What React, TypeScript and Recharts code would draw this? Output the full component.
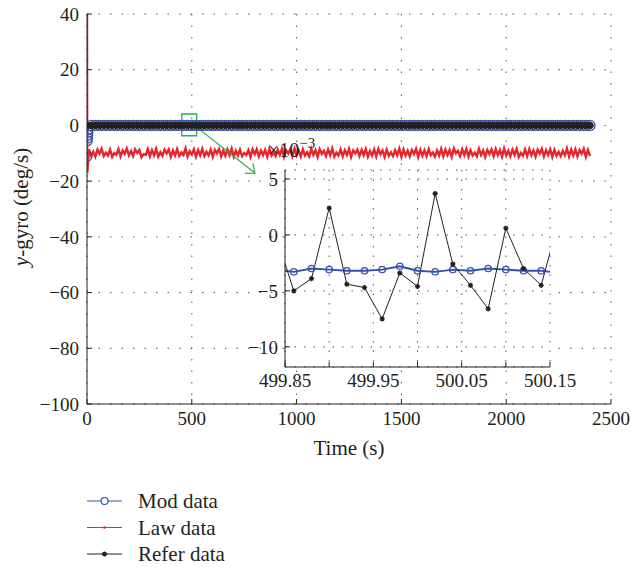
import React from "react";
import {
  CartesianGrid,
  Label,
  Line,
  LineChart,
  ReferenceArea,
  ReferenceLine,
  XAxis,
  YAxis,
} from "recharts";

const FONT = "'Liberation Serif', 'Times New Roman', serif";
const INK = "#231f20";
const BLUE = "#3152a8";
const RED = "#e8242c";
const GREEN = "#27ae4f";

// main plot axes
const X_TICKS = [0, 500, 1000, 1500, 2000, 2500];
const Y_TICKS = [-100, -80, -60, -40, -20, 0, 20, 40];

// start-up transients at t = 0
const MOD_START_TIME = [0, 1, 2, 3, 4, 5];
const MOD_START = [-11.1, -5.5, -4.5, -3.5, -2.5, -1.5];
const REFER_START_TIME = [0];
const REFER_START = [0];
const LAW_START_TIME = [0, 1];
const LAW_START = [45, -17];

const MAIN_TIME = [
  20, 40, 60, 80, 100, 120, 140, 160, 180, 200,
  220, 240, 260, 280, 300, 320, 340, 360, 380, 400,
  420, 440, 460, 480, 500, 520, 540, 560, 580, 600,
  620, 640, 660, 680, 700, 720, 740, 760, 780, 800,
  820, 840, 860, 880, 900, 920, 940, 960, 980, 1000,
  1020, 1040, 1060, 1080, 1100, 1120, 1140, 1160, 1180, 1200,
  1220, 1240, 1260, 1280, 1300, 1320, 1340, 1360, 1380, 1400,
  1420, 1440, 1460, 1480, 1500, 1520, 1540, 1560, 1580, 1600,
  1620, 1640, 1660, 1680, 1700, 1720, 1740, 1760, 1780, 1800,
  1820, 1840, 1860, 1880, 1900, 1920, 1940, 1960, 1980, 2000,
  2020, 2040, 2060, 2080, 2100, 2120, 2140, 2160, 2180, 2200,
  2220, 2240, 2260, 2280, 2300, 2320, 2340, 2360, 2380, 2400,
];

const MOD_MAIN = [
  0, 0, 0, 0, 0, 0, 0, 0, 0, 0,
  0, 0, 0, 0, 0, 0, 0, 0, 0, 0,
  0, 0, 0, 0, 0, 0, 0, 0, 0, 0,
  0, 0, 0, 0, 0, 0, 0, 0, 0, 0,
  0, 0, 0, 0, 0, 0, 0, 0, 0, 0,
  0, 0, 0, 0, 0, 0, 0, 0, 0, 0,
  0, 0, 0, 0, 0, 0, 0, 0, 0, 0,
  0, 0, 0, 0, 0, 0, 0, 0, 0, 0,
  0, 0, 0, 0, 0, 0, 0, 0, 0, 0,
  0, 0, 0, 0, 0, 0, 0, 0, 0, 0,
  0, 0, 0, 0, 0, 0, 0, 0, 0, 0,
  0, 0, 0, 0, 0, 0, 0, 0, 0, 0,
];

const REFER_MAIN = [
  0, 0, 0, 0, 0, 0, 0, 0, 0, 0,
  0, 0, 0, 0, 0, 0, 0, 0, 0, 0,
  0, 0, 0, 0, 0, 0, 0, 0, 0, 0,
  0, 0, 0, 0, 0, 0, 0, 0, 0, 0,
  0, 0, 0, 0, 0, 0, 0, 0, 0, 0,
  0, 0, 0, 0, 0, 0, 0, 0, 0, 0,
  0, 0, 0, 0, 0, 0, 0, 0, 0, 0,
  0, 0, 0, 0, 0, 0, 0, 0, 0, 0,
  0, 0, 0, 0, 0, 0, 0, 0, 0, 0,
  0, 0, 0, 0, 0, 0, 0, 0, 0, 0,
  0, 0, 0, 0, 0, 0, 0, 0, 0, 0,
  0, 0, 0, 0, 0, 0, 0, 0, 0, 0,
];

const LAW_TIME = [
  10, 20, 30, 40, 50, 60, 70, 80, 90, 100,
  110, 120, 130, 140, 150, 160, 170, 180, 190, 200,
  210, 220, 230, 240, 250, 260, 270, 280, 290, 300,
  310, 320, 330, 340, 350, 360, 370, 380, 390, 400,
  410, 420, 430, 440, 450, 460, 470, 480, 490, 500,
  510, 520, 530, 540, 550, 560, 570, 580, 590, 600,
  610, 620, 630, 640, 650, 660, 670, 680, 690, 700,
  710, 720, 730, 740, 750, 760, 770, 780, 790, 800,
  810, 820, 830, 840, 850, 860, 870, 880, 890, 900,
  910, 920, 930, 940, 950, 960, 970, 980, 990, 1000,
  1010, 1020, 1030, 1040, 1050, 1060, 1070, 1080, 1090, 1100,
  1110, 1120, 1130, 1140, 1150, 1160, 1170, 1180, 1190, 1200,
  1210, 1220, 1230, 1240, 1250, 1260, 1270, 1280, 1290, 1300,
  1310, 1320, 1330, 1340, 1350, 1360, 1370, 1380, 1390, 1400,
  1410, 1420, 1430, 1440, 1450, 1460, 1470, 1480, 1490, 1500,
  1510, 1520, 1530, 1540, 1550, 1560, 1570, 1580, 1590, 1600,
  1610, 1620, 1630, 1640, 1650, 1660, 1670, 1680, 1690, 1700,
  1710, 1720, 1730, 1740, 1750, 1760, 1770, 1780, 1790, 1800,
  1810, 1820, 1830, 1840, 1850, 1860, 1870, 1880, 1890, 1900,
  1910, 1920, 1930, 1940, 1950, 1960, 1970, 1980, 1990, 2000,
  2010, 2020, 2030, 2040, 2050, 2060, 2070, 2080, 2090, 2100,
  2110, 2120, 2130, 2140, 2150, 2160, 2170, 2180, 2190, 2200,
  2210, 2220, 2230, 2240, 2250, 2260, 2270, 2280, 2290, 2300,
  2310, 2320, 2330, 2340, 2350, 2360, 2370, 2380, 2390, 2400,
];

const LAW_MAIN = [
  -8.6, -10.9, -9.4, -11.2, -8.7, -10.1, -8.4, -11.0, -9.8, -10.8,
  -8.7, -11.3, -9.9, -10.5, -8.5, -11.1, -9.0, -10.2, -8.3, -10.7,
  -9.2, -11.0, -8.6, -9.9, -8.8, -11.4, -10.3, -10.6, -8.5, -11.1,
  -8.9, -10.7, -8.4, -11.2, -9.6, -10.9, -8.7, -10.0, -8.6, -11.3,
  -9.0, -10.8, -8.5, -11.0, -9.7, -10.6, -8.3, -11.1, -9.2, -10.4,
  -8.6, -11.2, -8.9, -10.7, -8.4, -11.0, -9.5, -10.8, -8.7, -11.3,
  -8.8, -10.0, -8.5, -11.1, -9.0, -10.9, -8.6, -10.7, -8.3, -11.2,
  -9.1, -10.8, -8.7, -11.0, -9.9, -10.6, -8.9, -11.3, -8.6, -10.3,
  -8.5, -11.1, -9.0, -10.7, -8.8, -11.2, -8.4, -10.8, -9.7, -11.0,
  -8.7, -10.6, -8.5, -11.3, -8.9, -10.1, -8.6, -11.0, -8.3, -10.7,
  -9.0, -11.2, -8.6, -10.8, -9.6, -11.1, -8.4, -10.6, -8.9, -11.3,
  -8.5, -10.2, -9.1, -11.0, -8.7, -10.7, -8.3, -11.2, -9.8, -10.8,
  -8.6, -11.1, -8.9, -10.6, -8.4, -11.3, -9.0, -10.0, -8.7, -11.0,
  -8.8, -10.7, -8.5, -11.2, -9.2, -10.8, -8.6, -11.1, -8.4, -10.4,
  -9.0, -11.3, -8.7, -10.9, -9.6, -11.0, -8.9, -10.7, -8.3, -11.2,
  -8.6, -10.8, -9.1, -11.1, -8.8, -10.2, -8.4, -11.3, -8.7, -10.9,
  -8.9, -11.0, -8.5, -10.7, -9.7, -11.2, -9.0, -10.8, -8.4, -11.1,
  -8.7, -10.6, -8.8, -11.3, -8.3, -10.0, -9.1, -11.0, -8.6, -10.7,
  -8.5, -11.2, -8.9, -10.8, -9.8, -11.1, -8.4, -10.6, -9.0, -11.3,
  -8.8, -10.3, -8.6, -11.0, -8.5, -10.7, -8.9, -11.2, -8.3, -10.8,
  -9.1, -11.1, -8.7, -10.6, -8.4, -11.3, -9.9, -10.9, -8.6, -11.0,
  -8.5, -10.7, -9.0, -11.2, -8.7, -10.1, -8.4, -11.1, -8.9, -10.6,
  -8.6, -11.3, -8.8, -10.9, -9.5, -11.0, -9.1, -10.7, -8.3, -11.2,
  -8.7, -10.8, -8.6, -11.1, -8.9, -10.2, -8.4, -11.3, -8.8, -10.9,
];

// zoomed window around t = 500 s, values in units of 1e-3 deg/s
const INSET_TIME = [
  499.84, 499.86, 499.88, 499.9, 499.92, 499.94, 499.96, 499.98, 500.0,
  500.02, 500.04, 500.06, 500.08, 500.1, 500.12, 500.14, 500.16,
];
const MOD_INSET = [
  -3.1, -3.3, -3.0, -3.1, -3.2, -3.2, -3.1, -2.8, -3.2,
  -3.3, -3.1, -3.2, -3.0, -3.1, -3.2, -3.2, -3.4,
];
const REFER_INSET = [
  -0.1, -5.0, -3.9, 2.4, -4.4, -4.7, -7.5, -3.4, -4.6,
  3.7, -2.6, -4.5, -6.6, 0.6, -3.0, -4.5, 1.3,
];
const INSET_X_TICKS = [499.85, 499.9, 499.95, 500, 500.05, 500.1, 500.15];
const INSET_X_LABELS = ["499.85", "499.95", "500.05", "500.15"];
const INSET_Y_TICKS = [-10, -5, 0, 5];

// zoom box and arrow pointing to the inset
const ZOOM_BOX = { x1: 452, x2: 523, y1: -3.7, y2: 4.1 };
const ZOOM_ARROW = [
  { x: 523, y: -0.6 },
  { x: 801, y: -17.1 },
];

const LEGEND = [
  { name: "Mod data", color: BLUE, marker: "circle" },
  { name: "Law data", color: RED, marker: "dot" },
  { name: "Refer data", color: INK, marker: "star" },
];

const zip = (ts: number[], vs: number[]) => ts.map((t, i) => ({ t, v: vs[i] }));

const modData = [...zip(MOD_START_TIME, MOD_START), ...zip(MAIN_TIME, MOD_MAIN)];
const referData = [...zip(REFER_START_TIME, REFER_START), ...zip(MAIN_TIME, REFER_MAIN)];
const lawData = [...zip(LAW_START_TIME, LAW_START), ...zip(LAW_TIME, LAW_MAIN)];
const modInset = zip(INSET_TIME, MOD_INSET);
const referInset = zip(INSET_TIME, REFER_INSET);

const minus = (v: number) => String(v).replace("-", "\u2212");
const insetX = (v: number) => {
  const s = v.toFixed(2);
  return INSET_X_LABELS.includes(s) ? s : "";
};

// tick labels drawn by hand so the serif font and size stick
const makeTick = (side: "bottom" | "left", fmt: (v: number) => string) => (props: any) => {
  const { x, y, payload, textAnchor, index } = props;
  const label = fmt(payload.value);
  if (!label) return <g key={`t-${index}`} />;
  return (
    <text
      key={`t-${index}`}
      x={x}
      y={y}
      dy={side === "bottom" ? "0.71em" : "0.355em"}
      textAnchor={textAnchor}
      fontSize={19}
      fontFamily={FONT}
      fill={INK}
    >
      {label}
    </text>
  );
};

const starPath = (cx: number, cy: number, s: number) => {
  const d = s * 0.7;
  return `M${cx - s},${cy}H${cx + s}M${cx},${cy - s}V${cy + s}M${cx - d},${cy - d}L${cx + d},${cy + d}M${cx - d},${cy + d}L${cx + d},${cy - d}`;
};

const starDot = (size: number, width: number) => (props: any) => {
  const { cx, cy, index } = props;
  if (cx == null || cy == null) return <g key={`s-${index}`} />;
  return (
    <path
      key={`s-${index}`}
      d={starPath(cx, cy, size)}
      stroke={INK}
      strokeWidth={width}
      fill="none"
    />
  );
};

const Arrow = (props: any) => {
  const { x1, y1, x2, y2 } = props;
  const a = Math.atan2(y2 - y1, x2 - x1);
  const len = 10;
  const w = 0.7;
  const p1 = `${x2 - len * Math.cos(a - w)},${y2 - len * Math.sin(a - w)}`;
  const p2 = `${x2 - len * Math.cos(a + w)},${y2 - len * Math.sin(a + w)}`;
  return (
    <g>
      <line x1={x1} y1={y1} x2={x2} y2={y2} stroke={GREEN} strokeWidth={1.2} />
      <polyline points={`${p1} ${x2},${y2} ${p2}`} fill="none" stroke={GREEN} strokeWidth={1.2} />
    </g>
  );
};

const XTitle = (props: any) => {
  const { x, y, width } = props.viewBox;
  return (
    <text x={x + width / 2} y={y + 51} textAnchor="middle" fontSize={21} fontFamily={FONT} fill={INK}>
      Time (s)
    </text>
  );
};

const YTitle = (props: any) => {
  const { x, y, height } = props.viewBox;
  const cx = x + 21;
  const cy = y + height / 2 - 2;
  return (
    <text
      x={cx}
      y={cy}
      transform={`rotate(-90, ${cx}, ${cy})`}
      textAnchor="middle"
      dominantBaseline="central"
      fontSize={21}
      fontFamily={FONT}
      fill={INK}
    >
      <tspan fontStyle="italic">y</tspan>-gyro (deg/s)
    </text>
  );
};

const ScaleNote = (props: any) => {
  const { x, y, width } = props.viewBox;
  return (
    <text x={x + width - 17} y={y - 13} fontSize={20} fontFamily={FONT} fill={INK}>
      ×10
      <tspan fontSize={15} dy={-9}>
        {"\u22123"}
      </tspan>
    </text>
  );
};

const MainChart = () => (
  <LineChart width={631} height={470} margin={{ top: 14, right: 20, bottom: 6, left: 0 }}>
    <CartesianGrid stroke="#555" strokeDasharray="1.5 10" />
    <XAxis
      type="number"
      dataKey="t"
      domain={[0, 2500]}
      ticks={X_TICKS}
      interval={0}
      allowDataOverflow
      height={60}
      tickSize={-5}
      tickMargin={13}
      stroke={INK}
      tick={makeTick("bottom", String)}
    >
      <Label content={XTitle} />
    </XAxis>
    <XAxis
      xAxisId="top"
      orientation="top"
      type="number"
      domain={[0, 2500]}
      ticks={X_TICKS}
      interval={0}
      allowDataOverflow
      height={0}
      tickSize={-5}
      tick={false}
      stroke={INK}
    />
    <YAxis
      type="number"
      domain={[-100, 40]}
      ticks={Y_TICKS}
      interval={0}
      allowDataOverflow
      width={87}
      tickSize={-5}
      tickMargin={13}
      stroke={INK}
      tick={makeTick("left", minus)}
    >
      <Label content={YTitle} />
    </YAxis>
    <YAxis
      yAxisId="right"
      orientation="right"
      type="number"
      domain={[-100, 40]}
      ticks={Y_TICKS}
      interval={0}
      allowDataOverflow
      width={0}
      tickSize={-5}
      tick={false}
      stroke={INK}
    />
    <Line
      data={modData}
      dataKey="v"
      stroke={BLUE}
      strokeWidth={1}
      dot={{ r: 5, stroke: BLUE, strokeWidth: 1.2, fill: "none" }}
      activeDot={false}
      isAnimationActive={false}
    />
    <Line
      data={lawData}
      dataKey="v"
      stroke={RED}
      strokeWidth={2.4}
      dot={false}
      activeDot={false}
      isAnimationActive={false}
    />
    <Line
      data={referData}
      dataKey="v"
      stroke={INK}
      strokeWidth={1}
      dot={starDot(3.6, 2.6)}
      activeDot={false}
      isAnimationActive={false}
    />
    <ReferenceArea
      x1={ZOOM_BOX.x1}
      x2={ZOOM_BOX.x2}
      y1={ZOOM_BOX.y1}
      y2={ZOOM_BOX.y2}
      stroke={GREEN}
      strokeWidth={1.3}
      fill="none"
      fillOpacity={0}
    />
    <ReferenceLine segment={ZOOM_ARROW} shape={Arrow} />
  </LineChart>
);

const InsetChart = () => (
  <LineChart width={360} height={280} margin={{ top: 50, right: 40, bottom: 3, left: 25 }}>
    <CartesianGrid stroke="#555" strokeDasharray="1.5 8" fill="#fff" fillOpacity={1} />
    <XAxis
      type="number"
      dataKey="t"
      domain={[499.85, 500.15]}
      ticks={INSET_X_TICKS}
      interval={0}
      allowDataOverflow
      height={30}
      tickSize={-5}
      tickMargin={12}
      stroke={INK}
      tick={makeTick("bottom", insetX)}
    />
    <XAxis
      xAxisId="top"
      orientation="top"
      type="number"
      domain={[499.85, 500.15]}
      ticks={INSET_X_TICKS}
      interval={0}
      allowDataOverflow
      height={0}
      tickSize={-5}
      tick={false}
      stroke={INK}
    />
    <YAxis
      type="number"
      domain={[-11.8, 5.8]}
      ticks={INSET_Y_TICKS}
      interval={0}
      allowDataOverflow
      width={30}
      tickSize={-5}
      tickMargin={12}
      stroke={INK}
      tick={makeTick("left", minus)}
    >
      <Label content={ScaleNote} />
    </YAxis>
    <YAxis
      yAxisId="right"
      orientation="right"
      type="number"
      domain={[-11.8, 5.8]}
      ticks={INSET_Y_TICKS}
      interval={0}
      allowDataOverflow
      width={0}
      tickSize={-5}
      tick={false}
      stroke={INK}
    />
    <Line
      data={modInset}
      dataKey="v"
      stroke={BLUE}
      strokeWidth={1.8}
      dot={{ r: 3.2, stroke: BLUE, strokeWidth: 1.3, fill: "none" }}
      activeDot={false}
      isAnimationActive={false}
    />
    <Line
      data={referInset}
      dataKey="v"
      stroke={INK}
      strokeWidth={1}
      dot={starDot(2.6, 1.3)}
      activeDot={false}
      isAnimationActive={false}
    />
  </LineChart>
);

const LegendBox = () => (
  <svg width={300} height={90} style={{ position: "absolute", left: 0, top: 485 }}>
    {LEGEND.map((item, i) => {
      const y = 16 + i * 26.5;
      return (
        <g key={item.name}>
          <line x1={87} x2={122} y1={y} y2={y} stroke={item.color} strokeWidth={1} />
          {item.marker === "circle" && (
            <circle cx={104.5} cy={y} r={3.5} stroke={item.color} strokeWidth={1.2} fill="#fff" />
          )}
          {item.marker === "dot" && <circle cx={104.5} cy={y} r={1.3} fill={item.color} />}
          {item.marker === "star" && (
            <path d={starPath(104.5, y, 2.6)} stroke={item.color} strokeWidth={1.3} fill="none" />
          )}
          <text x={138} y={y + 7} fontSize={21} fontFamily={FONT} fill={INK}>
            {item.name}
          </text>
        </g>
      );
    })}
  </svg>
);

export default function App() {
  return (
    <div
      style={{
        position: "absolute",
        left: 0,
        top: 0,
        width: 631,
        height: 567,
        background: "#fff",
        fontFamily: FONT,
      }}
    >
      <MainChart />
      <div style={{ position: "absolute", left: 230, top: 120 }}>
        <InsetChart />
      </div>
      <LegendBox />
    </div>
  );
}
